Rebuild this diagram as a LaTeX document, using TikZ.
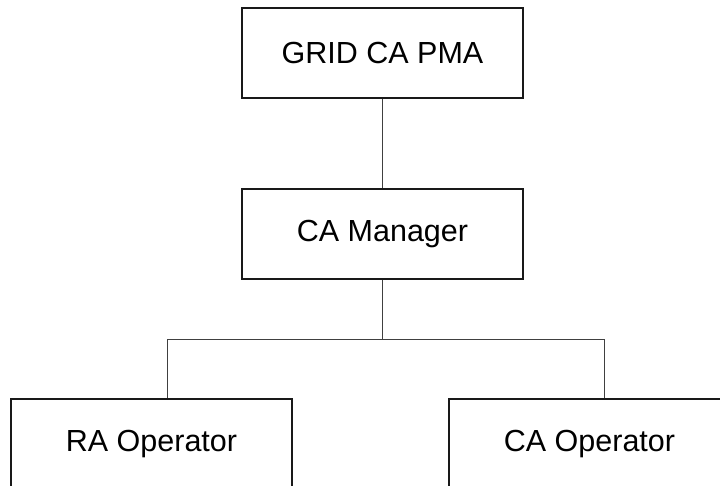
\documentclass[tikz,border=0pt]{standalone}
\usepackage{fontspec}
\setmainfont{Liberation Sans}
\begin{document}
\begin{tikzpicture}[x=1pt,y=1pt,
  box/.style={draw=black!90, line width=1.2pt, rectangle, minimum width=281pt, minimum height=90pt, inner sep=0pt, font=\fontsize{30.5}{35}\selectfont},
  conn/.style={draw=black!75, line width=0.8pt}]
\useasboundingbox (0,0) rectangle (720,-486);
\node[box] (pma) at (382.5,-53) {GRID CA PMA};
\node[box] (mgr) at (382.5,-234) {CA Manager};
\node[box] (ra) at (151.5,-444) {RA Operator};
\node[box] (cao) at (589.5,-444) {CA Operator};
\coordinate (bl) at (167,-339);
\coordinate (br) at (604,-339);
\draw[conn] (pma.south) -- (mgr.north);
\draw[conn] (mgr.south) -- (mgr.south |- bl);
\draw[conn] (bl) -- (br);
\draw[conn] (bl) -- (bl |- ra.north);
\draw[conn] (br) -- (br |- cao.north);
\end{tikzpicture}
\end{document}
